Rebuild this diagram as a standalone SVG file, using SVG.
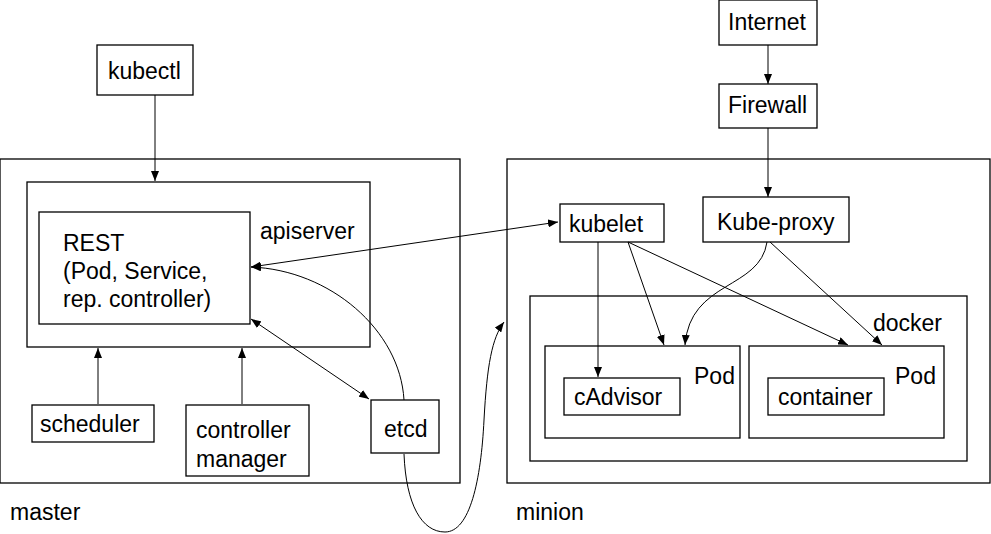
<svg xmlns="http://www.w3.org/2000/svg" width="991" height="534" viewBox="0 0 991 534">
<style>
rect{fill:none;stroke:#000;stroke-width:1.3}
text{font-family:"Liberation Sans",Arial,sans-serif;font-size:23px;fill:#000}
.c path,.c line{fill:none;stroke:#000;stroke-width:1}
</style>
<defs>
<marker id="a" markerUnits="userSpaceOnUse" markerWidth="10" markerHeight="8" refX="10" refY="4" orient="auto-start-reverse" viewBox="0 0 10 8">
<path d="M0,0 L10,4 L0,8 z" fill="#000"/>
</marker>
</defs>
<rect width="991" height="534" fill="#fff" stroke="none" style="fill:#fff;stroke:none"/>
<g id="master"><rect x="0" y="159" width="460" height="324"/><text x="10" y="520">master</text></g>
<g id="minion"><rect x="507" y="159" width="483" height="324"/><text x="516" y="520">minion</text></g>
<g id="apiserver"><rect x="27" y="182" width="343" height="165"/><text x="260" y="239">apiserver</text></g>
<g id="rest"><rect x="39" y="212" width="211" height="112"/><text x="63" y="251">REST</text><text x="63" y="279">(Pod, Service,</text><text x="63" y="307">rep. controller)</text></g>
<g id="kubectl"><rect x="97" y="45" width="96" height="50"/><text x="108" y="79">kubectl</text></g>
<g id="scheduler"><rect x="32" y="405" width="122" height="37"/><text x="40" y="432">scheduler</text></g>
<g id="controller-manager"><rect x="186" y="405" width="123" height="71"/><text x="196" y="438">controller</text><text x="196" y="467">manager</text></g>
<g id="etcd"><rect x="371" y="400" width="68" height="53"/><text x="384" y="437">etcd</text></g>
<g id="internet"><rect x="719" y="0" width="98" height="45"/><text x="728" y="30">Internet</text></g>
<g id="firewall"><rect x="719" y="84" width="98" height="44"/><text x="728" y="113">Firewall</text></g>
<g id="kubelet"><rect x="560" y="204" width="104" height="38"/><text x="569" y="232">kubelet</text></g>
<g id="kube-proxy"><rect x="703" y="197" width="146" height="45"/><text x="717" y="230">Kube-proxy</text></g>
<g id="docker"><rect x="530" y="296" width="437" height="165"/><text x="873" y="331">docker</text></g>
<g id="pod1"><rect x="545" y="346" width="195" height="92"/><text x="694" y="384">Pod</text></g>
<g id="pod2"><rect x="749" y="346" width="195" height="92"/><text x="895" y="384">Pod</text></g>
<g id="cadvisor"><rect x="564" y="378" width="116" height="37"/><text x="574" y="405">cAdvisor</text></g>
<g id="container"><rect x="768" y="378" width="116" height="37"/><text x="778" y="405">container</text></g>
<g class="c" id="connectors">
<line x1="155" y1="95" x2="155" y2="181" marker-end="url(#a)"/>
<line x1="98" y1="404" x2="98" y2="348" marker-end="url(#a)"/>
<line x1="242" y1="404" x2="242" y2="348" marker-end="url(#a)"/>
<line x1="369" y1="399" x2="251" y2="319" marker-start="url(#a)" marker-end="url(#a)"/>
<path d="M404,400 C400,330 330,270 251,267" marker-end="url(#a)"/>
<line x1="251" y1="267" x2="558" y2="222" marker-start="url(#a)" marker-end="url(#a)"/>
<path d="M404,454 C406,505 422,532 445,532 C470,532 481,480 484,420 C487,365 492,338 504,322" marker-end="url(#a)"/>
<line x1="768" y1="45" x2="768" y2="84" marker-end="url(#a)"/>
<line x1="768" y1="128" x2="768" y2="197" marker-end="url(#a)"/>
<line x1="598" y1="242" x2="598" y2="377" marker-end="url(#a)"/>
<line x1="628" y1="242" x2="664" y2="345" marker-end="url(#a)"/>
<line x1="628" y1="242" x2="848" y2="345" marker-end="url(#a)"/>
<path d="M767,242 C760,290 690,280 685,345" marker-end="url(#a)"/>
<line x1="770" y1="242" x2="882" y2="345" marker-end="url(#a)"/>
</g>
</svg>
